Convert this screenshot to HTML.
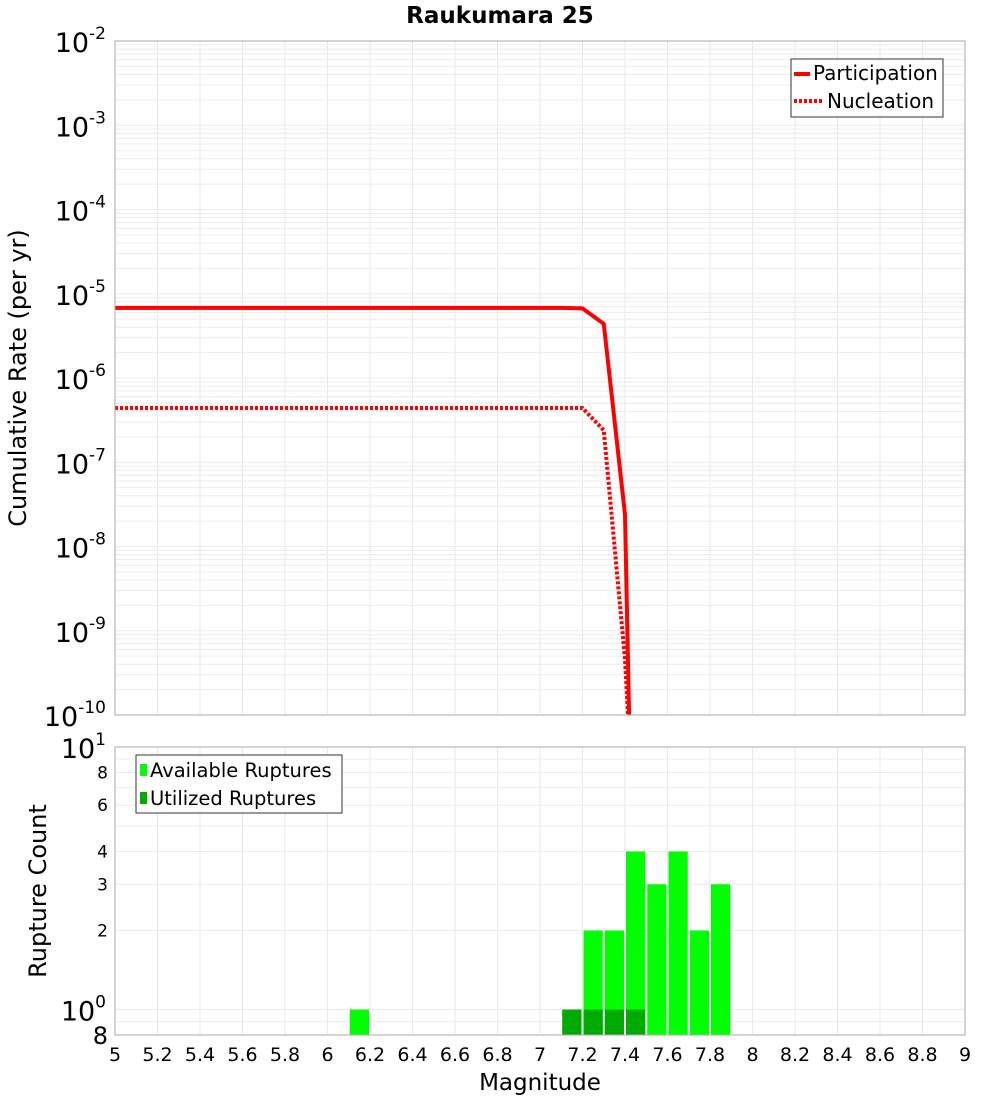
<!DOCTYPE html>
<html><head><meta charset="utf-8"><style>
html,body{margin:0;background:#fff;width:1000px;height:1100px;overflow:hidden;font-family:"Liberation Sans","DejaVu Sans",sans-serif}
svg{display:block}
svg text{font-family:"DejaVu Sans","Liberation Sans",sans-serif}
</style></head><body>
<svg id="c" width="1000" height="1100" xmlns="http://www.w3.org/2000/svg">
<text x="500" y="23" text-anchor="middle" font-size="23" font-weight="bold">Raukumara 25</text>
<text transform="translate(26,378) rotate(-90)" text-anchor="middle" font-size="24">Cumulative Rate (per yr)</text>
<text transform="translate(46,891) rotate(-90)" text-anchor="middle" font-size="24">Rupture Count</text>
<text x="540" y="1090" text-anchor="middle" font-size="23">Magnitude</text>
<g id="grid"></g><g id="marks"></g><g id="axes"></g>
<g>
<rect x="791" y="59" width="152" height="58" fill="#fff" stroke="#333"/>
<line x1="794" y1="74" x2="810" y2="74" stroke="#f00" stroke-width="4"/>
<text x="813" y="80" font-size="20">Participation</text>
<line x1="794" y1="101" x2="822" y2="101" stroke="#f00" stroke-width="4" stroke-dasharray="3,2"/>
<text x="827" y="108" font-size="20">Nucleation</text>
</g>
<g>
<rect x="136" y="755" width="206" height="58" fill="#fff" stroke="#333"/>
<rect x="140" y="764" width="7" height="12" fill="#00ff00"/>
<text x="150" y="777" font-size="19.5">Available Ruptures</text>
<rect x="140" y="792" width="7" height="12" fill="#00aa00"/>
<text x="150" y="805" font-size="19.5">Utilized Ruptures</text>
</g>
</svg>
<script>
const mags=[5.0,7.1,7.2,7.3,7.4,7.5];
const participation=[6.8e-6,6.8e-6,6.7e-6,4.4e-6,2.4e-8,1e-20];
const nucleation=[4.4e-7,4.4e-7,4.4e-7,2.4e-7,4.6e-10,1e-14];
const binStarts=[6.1,7.1,7.2,7.3,7.4,7.5,7.6,7.7,7.8];
const available=[1,1,2,2,4,3,4,2,3];
const utilized=[0,1,1,1,1,0,0,0,0];
const xTicks=[5,5.2,5.4,5.6,5.8,6,6.2,6.4,6.6,6.8,7,7.2,7.4,7.6,7.8,8,8.2,8.4,8.6,8.8,9];
const topExps=[-2,-3,-4,-5,-6,-7,-8,-9,-10];
const botTicks=[8,6,4,3,2];

const NS="http://www.w3.org/2000/svg";
const X0=115,X1=965;
const x=m=>X0+(m-5)/4*(X1-X0);
const TT=41,TB=715;
const yT=v=>TT+(-2-Math.log10(v))/8*(TB-TT);
const BT=747,BB=1035;
const yB=v=>BT+(1-Math.log10(v))/(1-Math.log10(0.8))*(BB-BT);
function mk(p,tag,at){const e=document.createElementNS(NS,tag);for(const k in at)e.setAttribute(k,at[k]);p.appendChild(e);return e;}
const G=document.getElementById('grid'),M=document.getElementById('marks'),A=document.getElementById('axes');
for(const t of xTicks){
 mk(G,'line',{x1:x(t),x2:x(t),y1:TT,y2:TB,stroke:'#e8e8e8'});
 mk(G,'line',{x1:x(t),x2:x(t),y1:BT,y2:BB,stroke:'#e8e8e8'});
}
for(let e=-10;e<-2;e++)for(let k=1;k<10;k++){const v=k*Math.pow(10,e);mk(G,'line',{x1:X0,x2:X1,y1:yT(v),y2:yT(v),stroke:'#ececec'});}
for(const v of [0.9,1,2,3,4,5,6,7,8,9])mk(G,'line',{x1:X0,x2:X1,y1:yB(v),y2:yB(v),stroke:'#ececec'});
const bw=(X1-X0)/40;
binStarts.forEach((b,i)=>{
 const r=mk(M,'rect',{x:x(b)+1,y:yB(available[i]),width:bw-2,height:BB-yB(available[i]),fill:'#00ff00'});
 
 
 if(utilized[i]>0){const u=mk(M,'rect',{x:x(b)+1,y:yB(utilized[i]),width:bw-2,height:BB-yB(utilized[i]),fill:'#00aa00'});
 
 }
});
const cp=mk(M,'clipPath',{id:'tc'});
mk(cp,'rect',{x:X0,y:TT,width:X1-X0,height:TB-TT});
const pl=mk(M,'polyline',{points:mags.map((m,i)=>x(m)+','+yT(participation[i])).join(' '),fill:'none',stroke:'#f00','stroke-width':4,'clip-path':'url(#tc)'});


const nl=mk(M,'polyline',{points:mags.map((m,i)=>x(m)+','+yT(nucleation[i])).join(' '),fill:'none',stroke:'#f00','stroke-width':4,'stroke-dasharray':'3,2','clip-path':'url(#tc)'});


mk(A,'rect',{x:X0,y:TT,width:X1-X0,height:TB-TT,fill:'none',stroke:'#aaa'});
mk(A,'rect',{x:X0,y:BT,width:X1-X0,height:BB-BT,fill:'none',stroke:'#aaa'});
for(const t of xTicks){const tx=mk(A,'text',{x:x(t),y:1061,'text-anchor':'middle','font-size':19});tx.textContent=String(t);
 }
for(const e of topExps){const tx=mk(A,'text',{x:106,y:yT(Math.pow(10,e))+11,'text-anchor':'end','font-size':27});
 
 tx.textContent='10';const s=mk(tx,'tspan',{dy:-13,'font-size':17});s.textContent=String(e);}
const t1=mk(A,'text',{x:106,y:yB(10)+11,'text-anchor':'end','font-size':27});t1.textContent='10';mk(t1,'tspan',{dy:-13,'font-size':17}).textContent='1';
const t0=mk(A,'text',{x:106,y:yB(1)+11,'text-anchor':'end','font-size':27});t0.textContent='10';mk(t0,'tspan',{dy:-13,'font-size':17}).textContent='0';
for(const v of botTicks){const tx=mk(A,'text',{x:108,y:yB(v)+6,'text-anchor':'end','font-size':17});tx.textContent=String(v);}
const t8=mk(A,'text',{x:108,y:BB+9,'text-anchor':'end','font-size':24});t8.textContent='8';
</script>
</body></html>
